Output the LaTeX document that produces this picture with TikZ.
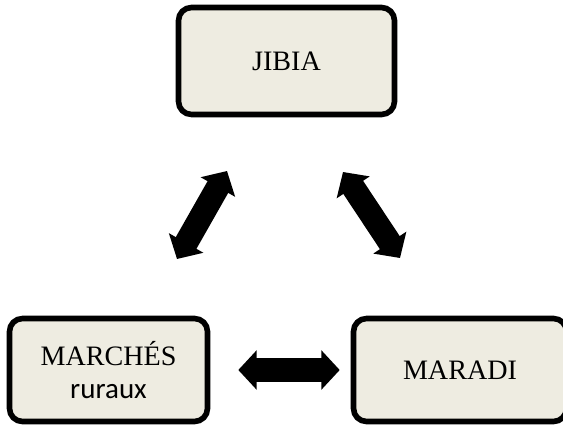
\documentclass[tikz,border=0pt]{standalone}
\usepackage{fontspec}
\setmainfont{Liberation Serif}
\newfontfamily\calfont{Carlito}
\usetikzlibrary{arrows.meta}
\definecolor{boxfill}{HTML}{EEECE1}
\tikzset{
  place/.style={draw=black,line width=3.2pt,fill=boxfill,rounded corners=0.26cm,
    align=center,inner sep=0pt,font=\fontsize{16}{18.7}\selectfont},
  link/.style={line width=13.5pt,
    {Triangle[width=22pt,length=10.5pt]}-{Triangle[width=22pt,length=10.5pt]}}
}
\begin{document}
\begin{tikzpicture}[x=0.02cm,y=-0.02cm]
\useasboundingbox (0,0) rectangle (563,425);
\clip (0,0) rectangle (563,425);
\node[place,minimum width=4.32cm,minimum height=2.14cm] (jibia) at (286.5,61) {JIBIA};
\node[place,minimum width=3.96cm,minimum height=2.06cm] (marches) at (108.5,370) {MARCHÉS\\{\calfont\fontsize{16.5}{18.7}\selectfont ruraux}};
\node[place,minimum width=4.26cm,minimum height=2.06cm] (maradi) at (460,370) {\raisebox{-4pt}{MARADI}};
\coordinate (ml) at (177,259);
\coordinate (jl) at (227,171);
\coordinate (jr) at (343,172);
\coordinate (mr) at (400,258);
\draw[link] (ml) -- (jl);
\draw[link] (jr) -- (mr);
\draw[link,shorten <=0.56cm,shorten >=0.22cm] (marches) -- (maradi);
\end{tikzpicture}
\end{document}
